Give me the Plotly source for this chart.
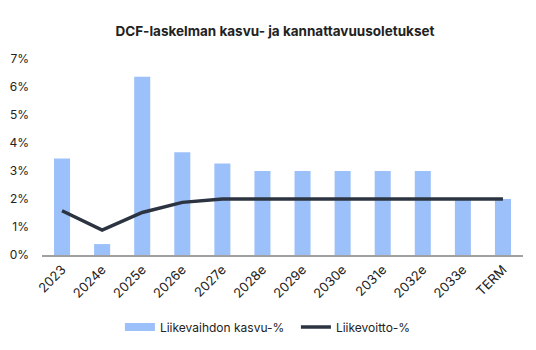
import plotly.graph_objects as go

categories = ["2023", "2024e", "2025e", "2026e", "2027e", "2028e", "2029e",
              "2030e", "2031e", "2032e", "2033e", "TERM"]
revenue_growth = [3.45, 0.39, 6.37, 3.67, 3.27, 3.0, 3.0, 3.0, 3.0, 3.0, 2.0, 2.0]
ebit_margin = [1.58, 0.89, 1.52, 1.88, 2.0, 2.0, 2.0, 2.0, 2.0, 2.0, 2.0, 2.0]
y_ticks = [0, 1, 2, 3, 4, 5, 6, 7]

FONT = "Inter, Lato, sans-serif"
TEXT = "#222222"
BAR_COLOR = "#9cc0fa"
LINE_COLOR = "#2b3440"

fig = go.Figure()
fig.add_trace(go.Bar(
    x=categories, y=revenue_growth, name="Liikevaihdon kasvu-%",
    marker=dict(color=BAR_COLOR, line=dict(width=0)), showlegend=False,
))
# legend entry for the bars drawn as a wide flat swatch
fig.add_trace(go.Scatter(
    x=[None], y=[None], name="Liikevaihdon kasvu-%", mode="lines",
    line=dict(color=BAR_COLOR, width=8),
))
fig.add_trace(go.Scatter(
    x=categories, y=ebit_margin, name="Liikevoitto-%", mode="lines",
    line=dict(color=LINE_COLOR, width=3.5),
))

fig.update_layout(
    width=536, height=350,
    margin=dict(l=42, r=13, t=59, b=95, autoexpand=False),
    paper_bgcolor="white", plot_bgcolor="white",
    bargap=0.6,
    font=dict(family=FONT, size=11, color=TEXT),
    title=dict(
        text="<b>DCF-laskelman kasvu- ja kannattavuusoletukset</b>",
        x=0.513, xanchor="center", y=0.911, yanchor="middle",
        font=dict(family=FONT, size=13.5, color=TEXT),
    ),
    legend=dict(
        orientation="h", x=0.162, xanchor="left",
        yref="container", y=0.066, yanchor="middle",
        font=dict(family=FONT, size=12, color=TEXT),
        itemwidth=30, traceorder="normal", entrywidth=131,
    ),
)
fig.update_xaxes(
    type="category", tickangle=-45, showgrid=False, automargin=False,
    showline=True, linecolor="#a0a0a0", linewidth=2,
    ticks="", tickfont=dict(size=13, color=TEXT),
)
fig.update_yaxes(
    range=[0, 7], tickvals=y_ticks, ticktext=[f"{v}%" for v in y_ticks],
    showgrid=False, zeroline=False, showline=False, ticks="", automargin=False,
    ticklabelstandoff=12, tickfont=dict(size=12, color=TEXT),
)

fig.write_html("out.html")
